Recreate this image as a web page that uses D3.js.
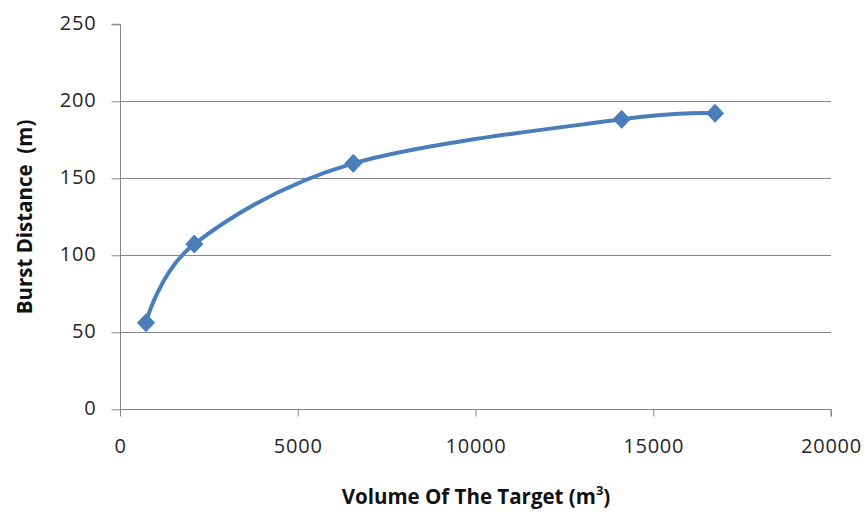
<!DOCTYPE html>
<html>
<head>
<meta charset="utf-8">
<script src="https://cdn.jsdelivr.net/npm/d3@7"></script>
<style>
  html, body { margin: 0; padding: 0; background: #fff; }
  svg { display: block; }
  .tick text { font-family: "Open Sans", sans-serif; font-size: 20px; letter-spacing: 0.8px; fill: #262626; }
  .title { font-family: "Open Sans", sans-serif; font-weight: bold; font-size: 20.5px; fill: #111; white-space: pre; }
</style>
</head>
<body>
<svg id="chart" width="865" height="512"></svg>
<script>
// Target volume (m³) against burst distance (m)
const volumes = [731, 2090, 6563, 14112, 16737];
const burstDistances = [56.2, 107.3, 159.7, 188.3, 192.2];
const xTicks = [0, 5000, 10000, 15000, 20000];
const yTicks = [0, 50, 100, 150, 200, 250];

const svg = d3.select("#chart");
const plotLeft = 120, plotRight = 831, plotTop = 24.3, plotBottom = 409.3;

const x = d3.scaleLinear().domain([0, 20000]).range([plotLeft, plotRight]);
const y = d3.scaleLinear().domain([0, 250]).range([plotBottom, plotTop]);

const axisColor = "#868686";

// horizontal gridlines (not at 0 or at the top)
svg.append("g")
  .selectAll("line")
  .data(yTicks.filter(v => v > 0 && v < 250))
  .join("line")
  .attr("x1", plotLeft).attr("x2", plotRight)
  .attr("y1", d => Math.round(y(d)) + 0.5).attr("y2", d => Math.round(y(d)) + 0.5)
  .attr("stroke", axisColor).attr("stroke-width", 1);

// y axis
const yAxis = svg.append("g")
  .attr("transform", `translate(${plotLeft + 0.5},0)`)
  .call(d3.axisLeft(y).tickValues(yTicks).tickSize(9).tickPadding(15).tickFormat(d3.format("d")));
yAxis.select(".domain").attr("stroke", axisColor).attr("d", `M-9,${y(250)}H0V${y(0)}`);
yAxis.selectAll(".tick line").attr("stroke", axisColor);
yAxis.selectAll(".tick text").attr("dy", "0.26em");

// x axis
const xAxis = svg.append("g")
  .attr("transform", `translate(0,${Math.round(plotBottom) + 0.5})`)
  .call(d3.axisBottom(x).tickValues(xTicks).tickSize(7).tickPadding(22).tickFormat(d3.format("d")));
xAxis.select(".domain").attr("stroke", axisColor).attr("d", `M${plotLeft},0H${plotRight}V7`);
xAxis.selectAll(".tick line").attr("stroke", axisColor);

// axis titles
svg.append("text")
  .attr("class", "title")
  .attr("x", 476).attr("y", 504)
  .attr("text-anchor", "middle")
  .html('Volume Of The Target (m<tspan baseline-shift="super" font-size="13px">3</tspan>)');

svg.append("text")
  .attr("class", "title")
  .attr("transform", `translate(32,217) rotate(-90)`)
  .attr("text-anchor", "middle")
  .text("Burst Distance  (m)");

// smoothed series line
const pts = volumes.map((v, i) => [v, burstDistances[i]]);
const line = d3.line()
  .x(d => x(d[0])).y(d => y(d[1]))
  .curve(d3.curveCardinal.tension(0));

svg.append("path")
  .datum(pts)
  .attr("d", line)
  .attr("fill", "none")
  .attr("stroke", "#4A7EBB")
  .attr("stroke-width", 4)
  .attr("stroke-linejoin", "round");

// diamond markers
svg.append("g")
  .selectAll("path")
  .data(pts)
  .join("path")
  .attr("transform", d => `translate(${x(d[0])},${y(d[1])})`)
  .attr("d", "M0,-9L8.5,0L0,9L-8.5,0Z")
  .attr("fill", "#4A7EBB")
  .attr("stroke", "#4A7EBB")
  .attr("stroke-width", 1);
</script>
</body>
</html>
